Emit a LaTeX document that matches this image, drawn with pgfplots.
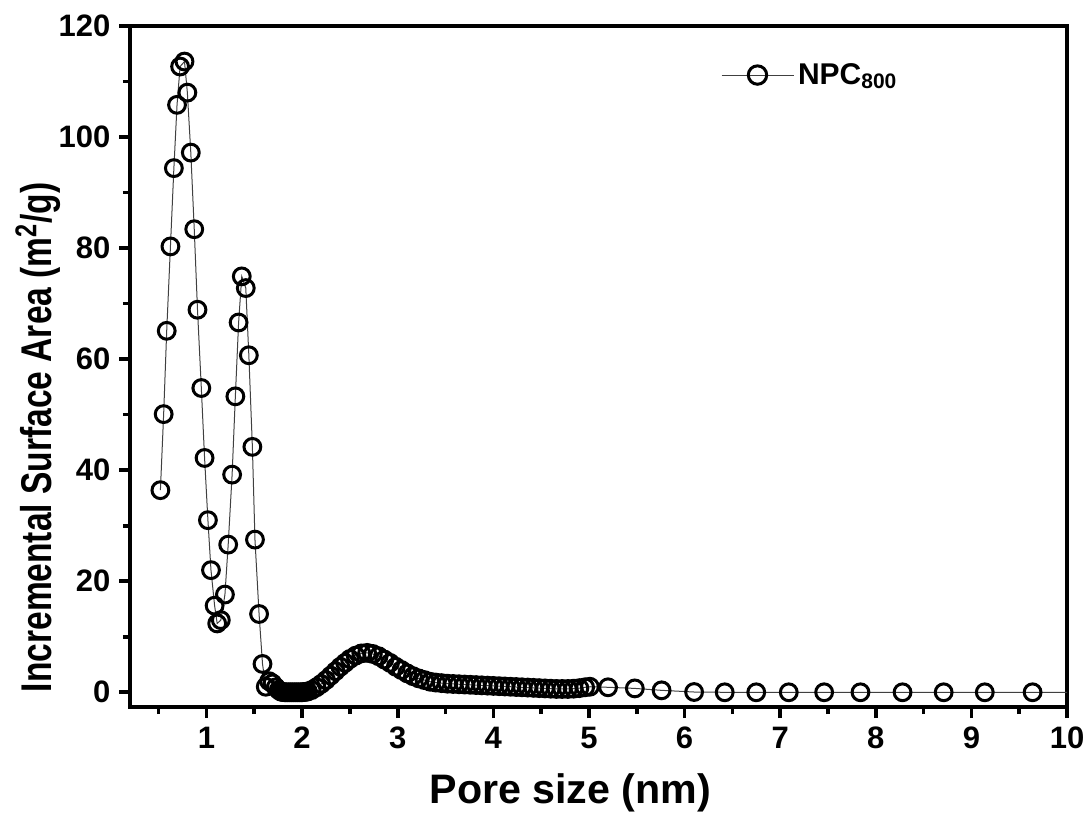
\documentclass[border=0pt]{standalone}
\usepackage{fontspec}
\setmainfont{Liberation Sans}
\usepackage{graphicx}
\usepackage{pgfplots}
\usepackage{pgfplotstable}
\pgfplotsset{compat=1.18}

% DFT pore size distribution, NPC_800
\pgfplotstableread{
x y
0.518 36.4
0.552 50.1
0.584 65.1
0.623 80.3
0.659 94.4
0.692 105.8
0.724 112.7
0.770 113.6
0.800 108.0
0.836 97.2
0.872 83.4
0.906 68.9
0.946 54.8
0.980 42.2
1.015 31.0
1.047 22.0
1.085 15.6
1.112 12.4
1.150 13.0
1.193 17.6
1.227 26.6
1.268 39.2
1.302 53.3
1.336 66.6
1.369 74.9
1.411 72.8
1.443 60.7
1.480 44.2
1.507 27.5
1.550 14.1
1.586 5.1
1.620 1.0
1.655 2.0
1.690 1.6
1.725 0.9
1.755 0.4
1.780 0.1
1.800 0.05
1.820 0.0
1.840 0.0
1.860 0.0
1.880 0.0
1.900 0.0
1.920 0.0
1.940 0.0
1.960 0.0
1.980 0.0
2.000 0.0
2.020 0.05
2.040 0.1
2.060 0.15
2.100 0.4
2.150 0.9
2.200 1.5
2.250 2.2
2.300 3.0
2.350 3.8
2.400 4.6
2.450 5.3
2.500 6.0
2.560 6.6
2.620 7.0
2.680 7.1
2.740 6.9
2.800 6.5
2.860 5.9
2.920 5.3
2.980 4.6
3.040 4.0
3.100 3.4
3.160 2.9
3.220 2.5
3.280 2.2
3.340 1.9
3.400 1.75
3.460 1.65
3.520 1.55
3.580 1.5
3.640 1.45
3.700 1.4
3.760 1.35
3.820 1.3
3.880 1.25
3.940 1.2
4.000 1.15
4.060 1.1
4.120 1.05
4.180 1.0
4.240 0.95
4.300 0.9
4.360 0.85
4.420 0.8
4.480 0.75
4.540 0.7
4.600 0.65
4.660 0.6
4.720 0.6
4.780 0.6
4.840 0.65
4.900 0.75
4.960 0.9
5.010 1.0
5.200 0.9
5.480 0.7
5.760 0.35
6.100 0.05
6.420 0.0
6.750 0.0
7.090 0.0
7.460 0.0
7.840 0.0
8.280 0.0
8.710 0.0
9.140 0.0
9.640 0.0
10.200 0.0
}\poredata

\begin{document}
\begin{tikzpicture}
\path[use as bounding box] (-65pt,-53.5pt) rectangle (478pt,353.5pt);
\begin{axis}[
  scale only axis,
  width=468.5pt, height=340.5pt,
  at={(0pt,0pt)}, anchor=south west,
  xmin=0.2, xmax=10, ymin=-2.65, ymax=120,
  line width=2pt,
  axis line style={line width=2pt},
  xtick={1,...,10}, ytick={0,20,...,120},
  minor xtick={0.5,1.5,...,9.5},
  minor ytick={10,30,...,110},
  tick align=outside,
  xtick pos=bottom, ytick pos=left,
  major tick length=5.5pt, minor tick length=3.5pt,
  every tick/.style={line width=1.8pt, black},
  ticklabel style={font=\fontsize{15.5}{15.5}\selectfont\bfseries},
  /pgf/number format/assume math mode=true,
  every axis x label/.style={at={(axis description cs:0.47,0)}, anchor=center, yshift=-43pt,
    font=\fontsize{20.6}{20.6}\selectfont\bfseries},
  every axis y label/.style={at={(axis description cs:0,0.396)}, anchor=center, rotate=90, yshift=46pt,
    font=\fontsize{21.5}{21.5}\selectfont\bfseries},
  xlabel={Pore size (nm)},
  ylabel={\scalebox{0.78}[1]{Incremental Surface Area (m\textsuperscript{2}/g)}},
  legend style={draw=none, fill=none, inner sep=0pt,
    at={(axis description cs:0.6286,0.928)}, anchor=west,
    font=\fontsize{15}{15}\selectfont\bfseries},
  legend image code/.code={
    \draw[black!75, line width=0.5pt] (0pt,0pt) -- (36pt,0pt);
    \draw[#1, mark size=4.6pt] plot coordinates {(18pt,0pt)};
  },
]
% thin connecting line
\addplot[black!75, line width=0.5pt, forget plot] table[x=x, y=y] {\poredata};
% open circle markers
\addplot[only marks, restrict x to domain=0:10,
  mark=o, mark size=4.2pt,
  mark options={black, line width=1.5pt, fill=white}]
  table[x=x, y=y] {\poredata};
\addlegendentry{NPC\textsubscript{800}}
\end{axis}
\end{tikzpicture}
\end{document}
